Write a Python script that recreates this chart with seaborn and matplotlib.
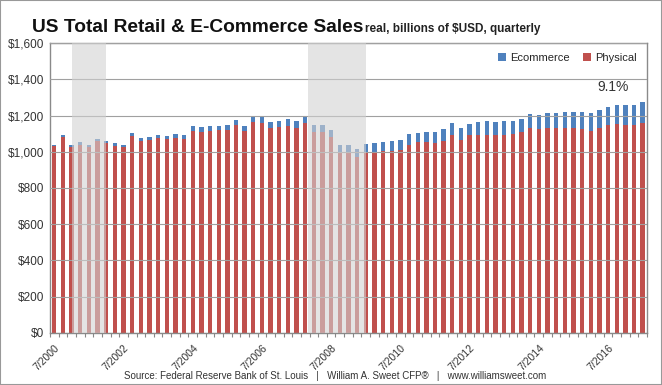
import matplotlib
matplotlib.use("Agg")
import matplotlib.pyplot as plt
from matplotlib import font_manager
from matplotlib.patches import Rectangle
import seaborn as sns
import pandas as pd

# quarterly categories, 7/2000 .. 7/2017
quarters = [f"{m}/{y}" for y in range(2000, 2018) for m in (1, 4, 7, 10)][2:71]
tick_labels = ["7/2000", "7/2002", "7/2004", "7/2006", "7/2008",
               "7/2010", "7/2012", "7/2014", "7/2016"]

# billions of USD
physical = [1030, 1082, 1029, 1040, 1026, 1058, 1046, 1034, 1025, 1085,
            1057, 1064, 1074, 1069, 1077, 1070, 1117, 1111, 1115, 1119,
            1123, 1146, 1116, 1164, 1158, 1132, 1136, 1144, 1131, 1157,
            1110, 1109, 1080, 998, 996, 970, 994, 1000, 1003, 1007,
            1012, 1040, 1052, 1052, 1050, 1062, 1095, 1066, 1091, 1093,
            1095, 1093, 1095, 1097, 1107, 1132, 1126, 1132, 1132, 1133,
            1132, 1128, 1117, 1132, 1146, 1152, 1148, 1146, 1159]
ecommerce = [10, 11, 11, 12, 12, 13, 14, 15, 15, 17,
             17, 18, 19, 20, 21, 22, 23, 24, 25, 26,
             27, 29, 29, 31, 32, 33, 34, 36, 37, 38,
             40, 41, 40, 40, 42, 44, 49, 51, 52, 51,
             54, 56, 54, 58, 60, 62, 65, 65, 64, 70,
             77, 72, 77, 75, 74, 78, 79, 82, 82, 87,
             89, 93, 99, 99, 99, 108, 112, 112, 116]
recessions = [(2.0, 6.0), (29.3, 36.0)]

BLUE = "#4f81bd"
RED = "#c0504d"

sns.set_style("white")
names = {f.name for f in font_manager.fontManager.ttflist}
narrow = "Liberation Sans Narrow" if "Liberation Sans Narrow" in names else "Liberation Sans"
plt.rcParams["font.family"] = ["Liberation Sans", "DejaVu Sans"]

df = pd.DataFrame({"quarter": quarters, "physical": physical, "ecommerce": ecommerce})
df["total"] = df["physical"] + df["ecommerce"]

fig = plt.figure(figsize=(6.62, 3.85), dpi=100)
ax = fig.add_axes([0.0755, 0.1358, 0.9018, 0.752])

sns.barplot(data=df, x="quarter", y="total", color=BLUE, saturation=1,
            width=0.5, linewidth=0, edgecolor="none", label="Ecommerce", ax=ax, zorder=2)
sns.barplot(data=df, x="quarter", y="physical", color=RED, saturation=1,
            width=0.5, linewidth=0, edgecolor="none", label="Physical", ax=ax, zorder=2)

for a, b in recessions:
    ax.axvspan(a, b, color="#d2d2d2", alpha=0.6, lw=0, zorder=3)

ax.set_xlim(-0.5, len(quarters) - 0.5)
ax.set_ylim(0, 1600)
ax.set_yticks(range(0, 1601, 200))
ax.set_yticklabels([f"${v:,}" for v in range(0, 1601, 200)], fontsize=8.5, color="#333333")
ax.yaxis.grid(True, color="#a0a0a0", lw=0.8, zorder=4)
ax.set_axisbelow(False)

pos = [quarters.index(t) for t in tick_labels]
ax.set_xticks(pos)
ax.set_xticklabels(tick_labels, rotation=45, ha="right", rotation_mode="anchor",
                   fontsize=7.5, color="#333333")
ax.set_xticks([i - 0.5 for i in range(len(quarters) + 1)], minor=True)
ax.tick_params(axis="x", which="major", length=0, pad=7)
ax.tick_params(axis="x", which="minor", length=3, width=0.8, color="#888888",
               direction="out", bottom=True)
ax.tick_params(axis="y", length=0, pad=4)
ax.set_xlabel("")
ax.set_ylabel("")
for s in ax.spines.values():
    s.set_color("#8a8a8a")
    s.set_linewidth(1)

ax.legend(loc="upper right", bbox_to_anchor=(1.0, 1.0), ncol=2, frameon=False,
          fontsize=8, handlelength=0.7, handleheight=0.7, handletextpad=0.4,
          columnspacing=1.2)

ax.text(64.6, 1360, "9.1%", ha="center", va="center", fontsize=10, color="#333333")

fig.text(0.048, 0.917, "US Total Retail & E-Commerce Sales", family=narrow,
         fontsize=13.8, fontweight="bold", color="#111111")
fig.text(0.552, 0.917, "real, billions of $USD, quarterly", family=narrow,
         fontsize=8.5, fontweight="bold", color="#222222")
fig.text(0.506, 0.023, "Source: Federal Reserve Bank of St. Louis   |   William A. Sweet CFP\u00ae   |   www.williamsweet.com",
         ha="center", va="center", fontsize=7, color="#333333")

fig.patches.append(Rectangle((0, 0), 1, 1, transform=fig.transFigure, fill=False,
                             edgecolor="#999999", lw=1.5))

fig.savefig("out.png", dpi=100)
